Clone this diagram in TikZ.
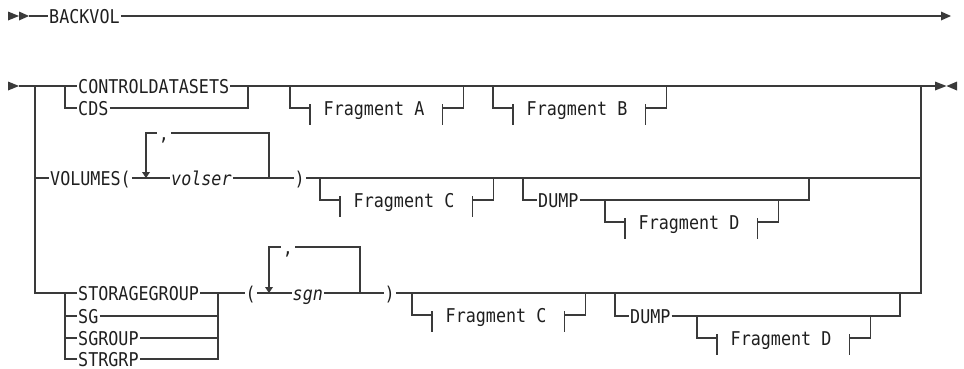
\documentclass[tikz,border=0pt]{standalone}
\usepackage{fontspec}
\newfontfamily\rr{DejaVu Sans Mono}[FakeStretch=0.88]
\definecolor{ln}{HTML}{3A3A3A}
\tikzset{
  rail/.style={draw=ln, line width=1.1pt},
  kw/.style={font={\rr\fontsize{19}{22}\selectfont}, inner xsep=1pt, inner ysep=0pt,
             text height=14pt, text depth=0pt, anchor=west, text=black!88},
  var/.style={kw, font={\rr\itshape\fontsize{19}{22}\selectfont}},
  tip/.style={fill=ln, draw=none},
}
\newcommand{\railfrag}[4]{%
  \coordinate (#4b) at (#1,#2);
  \draw[rail] (#4b) |- ++(20,22) coordinate (#4l);
  \draw[rail] ([yshift=4pt]#4l) -- ([yshift=-17pt]#4l);
  \node[kw] (#4) at ([xshift=12.5pt]#4l) {#3};
  \coordinate (#4r) at ([xshift=17pt]#4.east);
  \draw[rail] ([yshift=4pt]#4r) -- ([yshift=-17pt]#4r);
  \draw[rail] (#4r) -- ++(21,0) -- ++(0,-22);
}
\begin{document}
\begin{tikzpicture}[x=1pt,y=-1pt]
\useasboundingbox (0,0) rectangle (964,368);

% ---- row 1
\fill[tip] (8,11.5) -- (19,16) -- (8,20.5) -- cycle;
\fill[tip] (19,11.5) -- (29,16) -- (19,20.5) -- cycle;
\coordinate (s1) at (29,16);
\node[kw] (backvol) at (48,16) {BACKVOL};
\coordinate (e1) at (941,16);
\draw[rail] (s1) -- (backvol.west);
\draw[rail] (backvol.east) -- (e1);
\fill[tip] (941,11.5) -- (951,16) -- (941,20.5) -- cycle;

% ---- row 2 main
\fill[tip] (8,81.5) -- (19,86) -- (8,90.5) -- cycle;
\coordinate (s2) at (19,86);
\node[kw] (cds1) at (77,86) {CONTROLDATASETS};
\node[kw] (cds2) at (77,108) {CDS};
\draw[rail] (s2) -- (cds1.west);
\draw[rail] (65,86) |- (cds2.west);
\draw[rail] (cds1.east) -- (248,86) coordinate (j1);
\draw[rail] (cds2.east) -| (j1);
\draw[rail] (j1) -- (921,86) coordinate (rj);
\draw[rail] (rj) -- (935,86) coordinate (e2);
\fill[tip] (935,81.5) -- (946.5,86) -- (935,90.5) -- cycle;
\fill[tip] (957,81.5) -- (946.5,86) -- (957,90.5) -- cycle;

\railfrag{290}{86}{Fragment A}{fa}
\railfrag{493}{86}{Fragment B}{fb}

% ---- storagegroup choice (defined first for left rail)
\node[kw] (sg1) at (77,293) {STORAGEGROUP};
\node[kw] (sg2) at (77,316) {SG};
\node[kw] (sg3) at (77,338) {SGROUP};
\node[kw] (sg4) at (77,359) {STRGRP};
\draw[rail] (35,86) |- (sg1.west);
\draw[rail] (65,293) |- (sg2.west);
\draw[rail] (65,293) |- (sg3.west);
\draw[rail] (65,293) |- (sg4.west);

% ---- VOLUMES row
\node[kw] (vol) at (49,178) {VOLUMES(};
\node[var] (volser) at (170,178) {volser};
\node[kw] (rp1) at (293.5,178) {)};
\draw[rail] (35,178) -- (vol.west);
\draw[rail] (vol.east) -- (volser.west);
\draw[rail] (volser.east) -- (rp1.west);
\node[kw, anchor=center, inner xsep=2pt] (cm1) at (164,133) {,};
\draw[rail] (cm1.west) -| (146,172);
\fill[tip] (142,172) -- (150,172) -- (146,178) -- cycle;
\draw[rail] (cm1.east) -| (269,178);
\draw[rail] (rp1.east) -- (921,178);
\railfrag{320}{178}{Fragment C}{fca}
\node[kw] (dump1) at (537,200) {DUMP};
\draw[rail] (523,178) |- (dump1.west);
\draw[rail] (dump1.east) -| (809,178);
\railfrag{605}{200}{Fragment D}{fda}

% ---- STORAGEGROUP row
\draw[rail] (sg1.east) -- (218,293) coordinate (j3);
\draw[rail] (sg2.east) -| (j3);
\draw[rail] (sg3.east) -| (j3);
\draw[rail] (sg4.east) -| (j3);
\node[kw] (lp2) at (244.5,293) {(};
\node[var] (sgn) at (291.5,293) {sgn};
\node[kw] (rp2) at (383.5,293) {)};
\draw[rail] (j3) -- (lp2.west);
\draw[rail] (lp2.east) -- (sgn.west);
\draw[rail] (sgn.east) -- (rp2.west);
\node[kw, anchor=center, inner xsep=2pt] (cm2) at (288,247) {,};
\draw[rail] (cm2.west) -| (269,287);
\fill[tip] (265,287) -- (273,287) -- (269,293) -- cycle;
\draw[rail] (cm2.east) -| (360,293);
\draw[rail] (rp2.east) -| (rj);
\railfrag{412}{293}{Fragment C}{fcb}
\node[kw] (dump2) at (629,316) {DUMP};
\draw[rail] (615,293) |- (dump2.west);
\draw[rail] (dump2.east) -| (900,293);
\railfrag{697}{316}{Fragment D}{fdb}
\end{tikzpicture}
\end{document}
